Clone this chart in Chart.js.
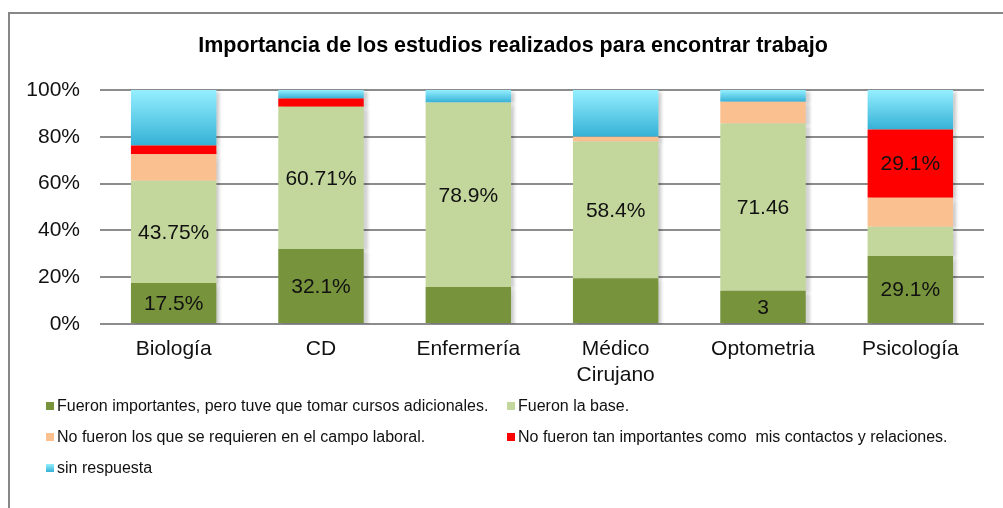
<!DOCTYPE html>
<html lang="es">
<head>
<meta charset="utf-8">
<title>Importancia de los estudios</title>
<script src="https://cdn.jsdelivr.net/npm/chart.js@4.4.1/dist/chart.umd.min.js"></script>
<style>
    html, body { margin: 0; padding: 0; background: #fff; }
    body { width: 1003px; height: 508px; position: relative; overflow: hidden; font-family: "Liberation Sans", Arial, sans-serif; }
    #marco { position: absolute; left: 8px; top: 12px; width: 1100px; height: 600px; border: 2px solid #878787; box-sizing: border-box; }
    #grafico { position: absolute; left: 0; top: 0; }
    #leyenda { position: absolute; left: 46px; top: 396px; width: 940px; display: grid; grid-template-columns: 461px 470px; row-gap: 11px; font-size: 16px; color: #111; }
    #leyenda div { display: flex; align-items: center; height: 20px; white-space: pre; }
    #leyenda span.caja { width: 8px; height: 8px; margin-right: 3px; display: inline-block; }
</style>
</head>
<body>
<div id="marco"></div>
<canvas id="grafico" width="1003" height="400"></canvas>
<div id="leyenda"></div>

<script>
// Datos del gráfico (porcentajes)
const titulo = 'Importancia de los estudios realizados para encontrar trabajo';
const carreras = ['Biología', 'CD', 'Enfermería', ['Médico', 'Cirujano'], 'Optometria', 'Psicología'];

const cursosAdicionales = [17.5, 32.1, 15.8, 19.6, 14.2, 29.1];
const fueronLaBase = [43.75, 60.71, 78.9, 58.4, 71.46, 12.5];
const noRequeridos = [11.25, 0, 0, 2.0, 9.3, 12.4];
const contactos = [3.75, 3.6, 0, 0, 0, 29.1];
const sinRespuesta = [23.75, 3.59, 5.3, 20.0, 5.04, 16.9];

// Etiquetas que aparecen sobre las barras
const etiquetasCursos = ['17.5%', '32.1%', '', '', '3', '29.1%'];
const etiquetasBase = ['43.75%', '60.71%', '78.9%', '58.4%', '71.46', ''];
const etiquetasContactos = ['', '', '', '', '', '29.1%'];

const ticksY = ['0%', '20%', '40%', '60%', '80%', '100%'];

const fuente = '"Liberation Sans", Arial, sans-serif';

// Degradado del segmento "sin respuesta"
function colorSinRespuesta(context) {
    const chart = context.chart;
    if (!chart.chartArea || context.raw == null) return '#5cc8e6';
    const y = chart.scales.y;
    const arriba = y.getPixelForValue(100);
    const abajo = y.getPixelForValue(100 - context.raw);
    if (!isFinite(arriba) || !isFinite(abajo) || abajo - arriba < 1) return '#5cc8e6';
    const g = chart.ctx.createLinearGradient(0, arriba, 0, abajo);
    g.addColorStop(0, '#95efff');
    g.addColorStop(1, '#35b1d6');
    return g;
}

const series = [
    { label: 'Fueron importantes, pero tuve que tomar cursos adicionales.', data: cursosAdicionales, color: '#77933c', etiquetas: etiquetasCursos },
    { label: 'Fueron la base.', data: fueronLaBase, color: '#c3d69b', etiquetas: etiquetasBase },
    { label: 'No fueron los que se requieren en el campo laboral.', data: noRequeridos, color: '#fac090', etiquetas: null },
    { label: 'No fueron tan importantes como  mis contactos y relaciones.', data: contactos, color: '#ff0000', etiquetas: etiquetasContactos },
    { label: 'sin respuesta', data: sinRespuesta, color: colorSinRespuesta, etiquetas: null }
];

// Sombra suave a la derecha de las barras
const sombraBarras = {
    id: 'sombraBarras',
    beforeDatasetsDraw(chart) {
        const ctx = chart.ctx;
        ctx.save();
        ctx.shadowColor = 'rgba(0,0,0,0.18)';
        ctx.shadowOffsetX = 4;
        ctx.shadowOffsetY = 2;
        ctx.shadowBlur = 3;
    },
    afterDatasetsDraw(chart) {
        chart.ctx.restore();
    }
};

// Etiquetas de texto en el centro de cada segmento
const etiquetasBarras = {
    id: 'etiquetasBarras',
    afterDatasetsDraw(chart) {
        const ctx = chart.ctx;
        ctx.save();
        ctx.font = '21px ' + fuente;
        ctx.fillStyle = '#111';
        ctx.textAlign = 'center';
        ctx.textBaseline = 'middle';
        chart.data.datasets.forEach((ds, i) => {
            if (!ds.etiquetas) return;
            chart.getDatasetMeta(i).data.forEach((barra, j) => {
                const texto = ds.etiquetas[j];
                if (!texto) return;
                ctx.fillText(texto, barra.x, (barra.y + barra.base) / 2 + 1);
            });
        });
        ctx.restore();
    }
};

// Título centrado sobre el marco completo
const tituloMarco = {
    id: 'tituloMarco',
    afterDraw(chart) {
        const ctx = chart.ctx;
        ctx.save();
        ctx.font = 'bold 21.5px ' + fuente;
        ctx.fillStyle = '#000';
        ctx.textAlign = 'center';
        ctx.textBaseline = 'middle';
        ctx.fillText(titulo, 513, 46);
        ctx.restore();
    }
};

const ctx = document.getElementById('grafico').getContext('2d');
new Chart(ctx, {
    type: 'bar',
    data: {
        labels: carreras,
        datasets: series.map(s => ({
            label: s.label,
            data: s.data,
            backgroundColor: s.color,
            borderWidth: 0,
            etiquetas: s.etiquetas,
            categoryPercentage: 1,
            barPercentage: 0.58
        }))
    },
    options: {
        responsive: false,
        animation: false,
        layout: { padding: { left: 0, right: 19, top: 90, bottom: 0 } },
        plugins: {
            legend: { display: false },
            tooltip: { enabled: false },
            title: { display: false }
        },
        scales: {
            x: {
                stacked: true,
                grid: { display: false, drawTicks: false },
                border: { display: false },
                ticks: {
                    color: '#111',
                    padding: 13,
                    font: { family: fuente, size: 21 }
                },
                afterFit(scale) { scale.height = 76; }
            },
            y: {
                stacked: true,
                min: 0,
                max: 100,
                grid: { color: '#8c8c8c', lineWidth: 2, drawTicks: false },
                border: { display: false },
                ticks: {
                    stepSize: 20,
                    color: '#111',
                    padding: 20,
                    font: { family: fuente, size: 21 },
                    callback: (v) => ticksY[v / 20]
                },
                afterFit(scale) { scale.width = 100; }
            }
        }
    },
    plugins: [sombraBarras, etiquetasBarras, tituloMarco]
});

// Leyenda en dos columnas
const leyenda = document.getElementById('leyenda');
const coloresLeyenda = ['#77933c', '#c3d69b', '#fac090', '#ff0000', 'linear-gradient(#95efff, #35b1d6)'];
series.forEach((s, i) => {
    const item = document.createElement('div');
    const caja = document.createElement('span');
    caja.className = 'caja';
    caja.style.background = coloresLeyenda[i];
    item.appendChild(caja);
    item.appendChild(document.createTextNode(s.label));
    leyenda.appendChild(item);
});
</script>
</body>
</html>
